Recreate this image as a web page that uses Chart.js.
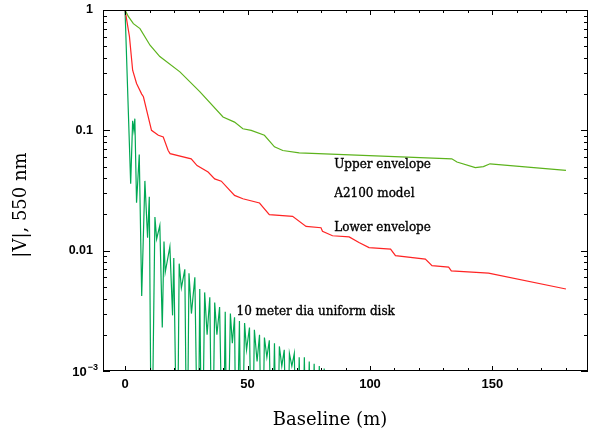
<!DOCTYPE html>
<html lang="en">
<head>
<meta charset="UTF-8" />
<title>|V| vs baseline</title>
<script src="https://cdn.jsdelivr.net/npm/chart.js"></script>
<style>
  html, body { margin: 0; padding: 0; background: #fff; }
</style>
</head>
<body>
<canvas id="visChart" width="596" height="434"></canvas>
<script>
// === Upper envelope ===
const upperX = [0, 1.4, 3.4, 6.1, 10.2, 14.2, 22.4, 30.5, 40.0, 44.7, 48.1, 51.5, 56.9, 61.0, 64.4, 71.1, 133.4, 135.5, 143.0, 146.3, 149.0, 180.0];
const upperY = [1, 0.88, 0.77, 0.70, 0.51, 0.41, 0.306, 0.21, 0.129, 0.117, 0.103, 0.100, 0.091, 0.073, 0.068, 0.065, 0.058, 0.0546, 0.049, 0.050, 0.0527, 0.0464];

// === Lower envelope ===
const lowerX = [0, 1.8, 3.1, 4.7, 6.8, 7.5, 10.8, 13.6, 15.6, 17.6, 18.4, 27.0, 29.4, 33.9, 36.6, 39.3, 44.7, 48.1, 54.9, 58.9, 68.4, 73.9, 80.0, 80.6, 84.7, 91.5, 95.5, 99.6, 108.4, 110.4, 122.6, 125.3, 132.1, 133.2, 148.4, 180.0];
const lowerY = [1, 0.60, 0.316, 0.245, 0.20, 0.19, 0.10, 0.091, 0.088, 0.068, 0.064, 0.058, 0.051, 0.045, 0.0395, 0.0378, 0.0288, 0.027, 0.0249, 0.0199, 0.0193, 0.0159, 0.0155, 0.0145, 0.0133, 0.013, 0.0117, 0.0106, 0.0103, 0.0091, 0.0085, 0.0075, 0.0073, 0.0068, 0.0065, 0.0048];

// === 10 m uniform disk (sampled) ===
const diskX = [0, 2.3, 3.1, 3.6, 4.0, 4.7, 5.8, 6.8, 8.1, 9.2, 9.9, 10.8, 12.2, 12.9, 14.2, 15.2, 15.9, 16.4, 18.3, 19.4,
  19.9, 21.3, 22.1, 23.0, 24.4, 25.3, 26.1, 27.1, 28.5, 29.8, 30.5, 31.4, 32.5, 33.5, 34.6, 35.6, 36.6, 37.5, 38.6, 40.0,
  40.9, 41.7, 43.0, 43.8, 44.7, 45.4, 46.7, 47.6, 48.8, 49.6, 50.8, 51.8, 52.8, 53.9, 54.9, 55.9, 56.9, 57.9, 58.9, 59.9,
  61.0, 62.0, 63.0, 64.0, 65.0, 66.1, 67.1, 68.1, 69.1, 70.1, 71.1, 72.2, 73.2, 74.2, 75.2, 76.2, 77.2, 78.3, 79.3, 80.3,
  81.3, 82.1, 84.1, 85.0, 87.4, 88.2];
const diskY = [1, 0.036, 0.12, 0.10, 0.125, 0.025, 0.063, 0.0042, 0.038, 0.0128, 0.028, 0.0001, 0.019, 0.0125, 0.0162, 0.0023, 0.0119, 0.0066, 0.0108, 0.0029,
  0.0087, 0.0001, 0.0078, 0.0049, 0.0070, 0.0001, 0.0065, 0.0030, 0.0060, 0.0001, 0.0048, 0.0001, 0.0045, 0.0020, 0.0041, 0.0001, 0.0037, 0.0020, 0.0034, 0.0001,
  0.0031, 0.0001, 0.0030, 0.0017, 0.0028, 0.0001, 0.0026, 0.0001, 0.0025, 0.0015, 0.0023, 0.0001, 0.0022, 0.0012, 0.0020, 0.0001, 0.0019, 0.0013, 0.0018, 0.0001,
  0.0017, 0.0001, 0.0016, 0.0011, 0.0015, 0.0001, 0.0014, 0.0011, 0.0014, 0.0001, 0.0013, 0.0001, 0.0013, 0.0001, 0.0012, 0.0001, 0.00115, 0.0001, 0.0011, 0.0001,
  0.00105, 0.0001, 0.00102, 0.0001, 0.00102, 0.0001];

// === Axes ===
const xTicks = [0, 50, 100, 150];
const xTickLabels = ["0", "50", "100", "150"];
const yTicks = [0.001, 0.01, 0.1, 1];
const yTickLabels = ["10^-3", "0.01", "0.1", "1"];

// === Labels in the plot (data coordinates) ===
const notes = [
  { text: "Upper envelope", x: 85.4, y: 0.052 },
  { text: "A2100 model", x: 85.4, y: 0.0299 },
  { text: "Lower envelope", x: 85.4, y: 0.0155 },
  { text: "10 meter dia uniform disk", x: 45.5, y: 0.0031 },
];

const tickFont = "'Liberation Sans', Arial, sans-serif";
const toPoints = (xs, ys) => xs.map((x, i) => ({ x: x, y: ys[i] }));

const framePlugin = {
  id: "frame",
  afterDatasetsDraw(chart) {
    const { ctx, chartArea: a, scales } = chart;
    const sx = scales.x, sy = scales.y;
    ctx.save();
    ctx.strokeStyle = "#000";
    ctx.lineWidth = 1;
    ctx.strokeRect(a.left + 0.5, a.top + 0.5, a.right - a.left - 1, a.bottom - a.top - 1);

    ctx.beginPath();
    for (let v = 0; v <= 180; v += 10) {
      const px = Math.round(sx.getPixelForValue(v)) + 0.5;
      const len = v % 50 === 0 ? 5 : 3;
      ctx.moveTo(px, a.bottom); ctx.lineTo(px, a.bottom - len);
      ctx.moveTo(px, a.top); ctx.lineTo(px, a.top + len);
    }
    for (let e = -3; e <= 0; e++) {
      for (let m = 1; m <= 9; m++) {
        const v = m * Math.pow(10, e);
        if (v > 1.0001) break;
        const py = Math.round(sy.getPixelForValue(v)) + 0.5;
        const len = m === 1 ? 7 : 4;
        ctx.moveTo(a.left, py); ctx.lineTo(a.left + len, py);
        ctx.moveTo(a.right, py); ctx.lineTo(a.right - len, py);
      }
    }
    ctx.stroke();

    // 10^-3 label with a raised exponent
    const p3 = sy.getPixelForValue(yTicks[0]);
    const [base, exp] = yTickLabels[0].split("^");
    ctx.fillStyle = "#000";
    ctx.textBaseline = "alphabetic";
    ctx.textAlign = "right";
    ctx.font = "bold 9px " + tickFont;
    const ew = ctx.measureText(exp.replace("-", "\u2212")).width;
    ctx.fillText(exp.replace("-", "\u2212"), a.left - 5, p3 - 1);
    ctx.font = "bold 13px " + tickFont;
    ctx.fillText(base, a.left - 6 - ew, p3 + 5);

    ctx.font = "12px 'DejaVu Serif'";
    ctx.textAlign = "left";
    ctx.textBaseline = "middle";
    ctx.lineWidth = 0.35;
    ctx.strokeStyle = "#000";
    notes.forEach((n) => {
      const px = sx.getPixelForValue(n.x), py = sy.getPixelForValue(n.y);
      ctx.fillText(n.text, px, py);
      ctx.strokeText(n.text, px, py);
    });

    ctx.font = "18px 'DejaVu Serif'";
    ctx.textAlign = "center";
    ctx.fillText("Baseline (m)", 330, 420);
    ctx.translate(21, 205);
    ctx.rotate(-Math.PI / 2);
    ctx.fillText("|V|, 550 nm", 0, 0);
    ctx.restore();
  },
};

new Chart(document.getElementById("visChart"), {
  type: "line",
  data: {
    datasets: [
      { label: "Upper envelope", data: toPoints(upperX, upperY), borderColor: "#5cb31c", borderWidth: 1.2 },
      { label: "Lower envelope", data: toPoints(lowerX, lowerY), borderColor: "#ff2424", borderWidth: 1.2 },
      { label: "10 meter dia uniform disk", data: toPoints(diskX, diskY), borderColor: "#00a854", borderWidth: 1.2 },
    ],
  },
  options: {
    responsive: false,
    animation: false,
    devicePixelRatio: 1,
    elements: { point: { radius: 0 }, line: { tension: 0 } },
    layout: { padding: { top: 10, right: 8, left: 0, bottom: 0 } },
    plugins: { legend: { display: false }, tooltip: { enabled: false } },
    scales: {
      x: {
        type: "linear",
        min: -9,
        max: 189,
        grid: { display: false, drawTicks: false },
        border: { display: false },
        afterBuildTicks: (s) => { s.ticks = xTicks.map((v) => ({ value: v })); },
        afterFit: (s) => { s.height = 63; s.paddingLeft = 0; s.paddingRight = 0; },
        ticks: {
          autoSkip: false,
          maxRotation: 0,
          padding: 6,
          color: "#000",
          font: { family: tickFont, size: 13, weight: "bold" },
          callback: (v, i) => xTickLabels[i],
        },
      },
      y: {
        type: "logarithmic",
        min: 0.001,
        max: 1,
        grid: { display: false, drawTicks: false },
        border: { display: false },
        afterBuildTicks: (s) => { s.ticks = yTicks.map((v) => ({ value: v })); },
        afterFit: (s) => { s.width = 103; s.paddingTop = 0; s.paddingBottom = 0; },
        ticks: {
          autoSkip: false,
          padding: 10,
          color: "#000",
          font: { family: tickFont, size: 12.5, weight: "bold" },
          callback: (v, i) => (i === 0 ? "" : yTickLabels[i]),
        },
      },
    },
  },
  plugins: [framePlugin],
});
</script>
</body>
</html>
